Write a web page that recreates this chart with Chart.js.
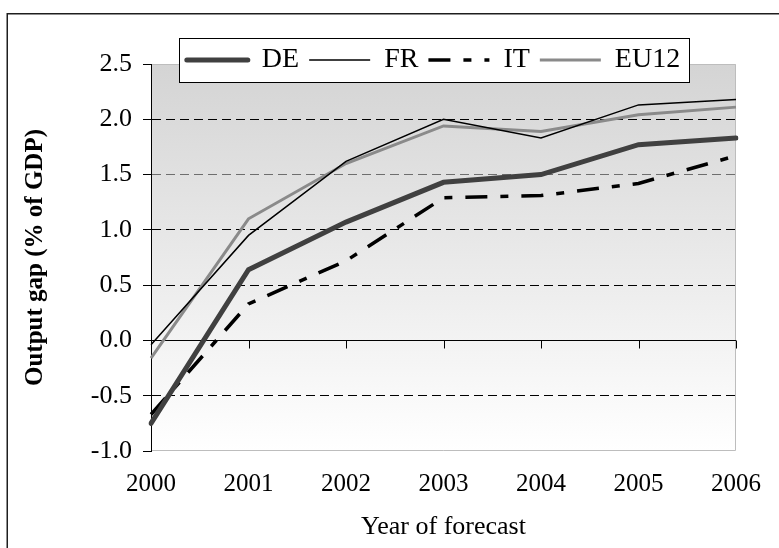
<!DOCTYPE html>
<html>
<head>
<meta charset="utf-8">
<script src="https://cdn.jsdelivr.net/npm/chart.js@4.4.1/dist/chart.umd.min.js"></script>
<style>
  html, body { margin: 0; padding: 0; background: #fff; }
  #wrap { width: 779px; height: 548px; }
  canvas { display: block; }
</style>
</head>
<body>
<div id="wrap"><canvas id="gap" width="779" height="548"></canvas></div>
<script>
// Forecast years on the horizontal axis
const years = ['2000', '2001', '2002', '2003', '2004', '2005', '2006'];

// Output gap forecasts, % of GDP
const deValues   = [-0.75, 0.64, 1.07, 1.43, 1.50, 1.77, 1.83];
const frValues   = [-0.04, 0.95, 1.62, 2.00, 1.83, 2.13, 2.18];
const itValues   = [-0.67, 0.33, 0.72, 1.29, 1.31, 1.42, 1.67];
const eu12Values = [-0.16, 1.10, 1.60, 1.94, 1.89, 2.04, 2.11];

// Vertical axis range and tick step
const yMin = -1.0;
const yMax = 2.5;
const yStep = 0.5;

const SERIF = '"Liberation Serif", "Times New Roman", Times, serif';

// Page frame, shaded plot area, legend box and the zero-line tick marks
const decorations = {
  id: 'decorations',
  afterLayout(chart) {
    // the legend sits over the top of the plot area: shift it and widen its clip region
    const lg = chart.legend;
    lg.left -= 10;
    lg.right -= 10;
    lg.bottom += 30;
    lg.height += 30;
  },
  beforeDraw(chart) {
    const { ctx, chartArea: a } = chart;
    ctx.save();
    ctx.fillStyle = '#ffffff';
    ctx.fillRect(0, 0, chart.width, chart.height);

    // outer frame (top and left edges)
    ctx.strokeStyle = '#1e1e1e';
    ctx.lineWidth = 1.5;
    ctx.beginPath();
    ctx.moveTo(7.25, chart.height + 5);
    ctx.lineTo(7.25, 13.75);
    ctx.lineTo(chart.width + 5, 13.75);
    ctx.stroke();

    // plot area gradient
    const g = ctx.createLinearGradient(0, a.top, 0, a.bottom);
    g.addColorStop(0, '#d4d4d4');
    g.addColorStop(1, '#ffffff');
    ctx.fillStyle = g;
    ctx.fillRect(a.left, a.top, a.right - a.left, a.bottom - a.top);
    ctx.strokeStyle = '#bdbdbd';
    ctx.lineWidth = 1;
    ctx.beginPath();
    ctx.moveTo(a.left, a.top + 0.5);
    ctx.lineTo(a.right - 0.5, a.top + 0.5);
    ctx.lineTo(a.right - 0.5, a.bottom - 0.5);
    ctx.lineTo(a.left, a.bottom - 0.5);
    ctx.stroke();

    // legend box
    const lg = chart.legend;
    const hb = lg.legendHitBoxes;
    if (hb && hb.length) {
      const first = hb[0];
      const last = hb[hb.length - 1];
      const bx = Math.round(first.left - 8) + 0.5;
      const bw = Math.round(last.left + last.width + 9 - bx);
      const cy = first.top + first.height / 2;
      const by = Math.round(cy - 22.5) + 0.5;
      const bh = 44;
      ctx.fillStyle = '#ffffff';
      ctx.fillRect(bx, by, bw, bh);
      ctx.strokeStyle = '#000000';
      ctx.lineWidth = 1;
      ctx.strokeRect(bx, by, bw, bh);
    }
    ctx.restore();
  },
  beforeDatasetsDraw(chart) {
    const { ctx, scales } = chart;
    const y0 = Math.round(scales.y.getPixelForValue(0)) + 0.5;
    ctx.save();
    ctx.strokeStyle = '#000000';
    ctx.lineWidth = 1;
    ctx.beginPath();
    for (let i = 1; i < years.length; i++) {
      const x = Math.round(scales.x.getPixelForTick(i)) + 0.5;
      ctx.moveTo(x, y0);
      ctx.lineTo(x, y0 + 8);
    }
    ctx.stroke();
    ctx.restore();
  }
};

const datasets = [
  { label: 'DE',   data: deValues,   borderColor: '#404040', borderWidth: 5,   borderCapStyle: 'round' },
  { label: 'FR',   data: frValues,   borderColor: '#000000', borderWidth: 1.5 },
  { label: 'IT',   data: itValues,   borderColor: '#000000', borderWidth: 3.5, borderDash: [22, 13, 8, 13] },
  { label: 'EU12', data: eu12Values, borderColor: '#8a8a8a', borderWidth: 3 }
].map(d => Object.assign({ fill: false, tension: 0, pointRadius: 0, pointHoverRadius: 0 }, d));

new Chart(document.getElementById('gap'), {
  type: 'line',
  data: { labels: years, datasets },
  plugins: [decorations],
  options: {
    responsive: false,
    animation: false,
    devicePixelRatio: 1,
    layout: { padding: { left: 8, top: 36, right: 31, bottom: 5 } },
    plugins: {
      tooltip: { enabled: false },
      legend: {
        position: 'top',
        fullSize: false,
        maxHeight: 28,
        labels: {
          usePointStyle: true,
          pointStyle: 'line',
          pointStyleWidth: 61,
          padding: 10,
          color: '#000',
          font: { family: SERIF, size: 28 },
          generateLabels: (chart) => chart.data.datasets.map((ds, i) => ({
            text: ds.label,
            strokeStyle: ds.borderColor,
            fillStyle: ds.borderColor,
            lineWidth: ds.borderWidth,
            lineDash: ds.borderDash || [],
            lineCap: ds.borderCapStyle || 'butt',
            pointStyle: 'line',
            hidden: false,
            datasetIndex: i
          }))
        }
      }
    },
    scales: {
      x: {
        offset: false,
        afterFit: (s) => { s.height = 92; },
        grid: { display: false, drawTicks: false },
        border: { display: false },
        ticks: { padding: 18, color: '#000', font: { family: SERIF, size: 25 }, maxRotation: 0, autoSkip: false },
        title: { display: true, text: 'Year of forecast', color: '#000', font: { family: SERIF, size: 26 }, padding: { top: 0, bottom: 0 } }
      },
      y: {
        min: yMin,
        max: yMax,
        afterFit: (s) => { s.width = 143; },
        ticks: {
          stepSize: yStep,
          padding: 11,
          color: '#000',
          font: { family: SERIF, size: 26 },
          callback: (v) => Number(v).toFixed(1)
        },
        grid: {
          lineWidth: 1,
          tickLength: 8,
          tickColor: '#000',
          color: (c) => {
            const v = c.tick ? c.tick.value : null;
            if (v === yMax || v === yMin) return 'rgba(0,0,0,0)';
            if (v === 1.5) return '#6e6e6e';
            return '#000';
          }
        },
        border: {
          display: true,
          color: '#000',
          width: 1,
          dash: (c) => (c.tick && c.tick.value !== 0) ? [9, 5] : []
        },
        title: {
          display: true,
          text: 'Output gap (% of GDP)',
          color: '#000',
          font: { family: SERIF, size: 25, weight: 'bold' },
          padding: { top: 13, bottom: 0 }
        }
      }
    }
  }
});
</script>
</body>
</html>
